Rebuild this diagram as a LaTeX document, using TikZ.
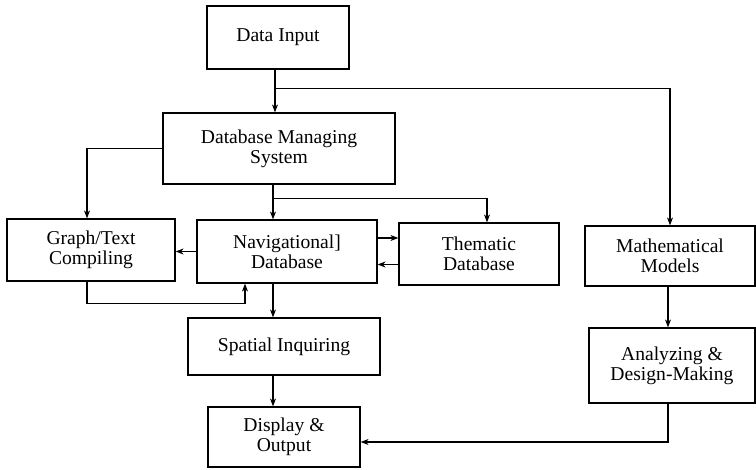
\documentclass[tikz,border=0pt]{standalone}
\usepackage{fontspec}
\setmainfont{Liberation Serif}
\usetikzlibrary{arrows.meta,calc}
\begin{document}
\begin{tikzpicture}[x=0.5pt,y=-0.5pt,
  box/.style={draw,line width=0.6pt,align=center,inner sep=0pt,font=\fontsize{9.8}{10}\selectfont},
  arr/.style={-{Stealth[length=4pt,width=3pt]},line width=0.6pt},
  ln/.style={line width=0.6pt}]
\useasboundingbox (0,0) rectangle (756,470);
\node[box,minimum width=71pt,minimum height=31.5pt] (din) at (278,37.5) {Data Input};
\node[box,minimum width=116pt,minimum height=35.5pt] (dms) at (279,148.5) {Database Managing\\System};
\node[box,minimum width=84pt,minimum height=31pt] (gtc) at (91,250) {Graph/Text\\Compiling};
\node[box,minimum width=90pt,minimum height=31.5pt] (nav) at (287,251.5) {Navigational]\\Database};
\node[box,minimum width=80pt,minimum height=31pt] (the) at (479,254) {Thematic\\Database};
\node[box,minimum width=85pt,minimum height=30pt] (mm) at (670,256) {Mathematical\\Models};
\node[box,minimum width=96pt,minimum height=28.5pt] (sp) at (284,346.5) {Spatial Inquiring};
\node[box,minimum width=76pt,minimum height=30pt] (dis) at (284,437) {Display \&\\Output};
\node[box,minimum width=83pt,minimum height=37.5pt] (an) at (672,365.5) {Analyzing \&\\Design-Making};
% Data input -> DMS, branch to Mathematical Models
\draw[arr] ([xshift=-1.5pt]din.south) -- ([xshift=-1.5pt]din.south |- dms.north);
\coordinate (j1) at ($([xshift=-1.5pt]din.south)!0.45!([xshift=-1.5pt]din.south |- dms.north)$);
\draw[arr] (j1) -| (mm.north);
% DMS -> Graph/Text
\draw[arr] (dms.west) -| ([xshift=-2pt]gtc.north);
% DMS -> Navigational, branch to Thematic
\draw[arr] ([xshift=-3pt]dms.south) -- ([xshift=-3pt]dms.south |- nav.north);
\coordinate (j2) at ($([xshift=-3pt]dms.south)!0.4!([xshift=-3pt]dms.south |- nav.north)$);
\draw[arr] (j2) -| ([xshift=4pt]the.north);
% Nav <-> Thematic
\draw[arr] ([yshift=6.75pt]nav.east) -- ([yshift=6.75pt]nav.east -| the.west);
\draw[arr] ([yshift=-5.25pt]the.west) -- ([yshift=-5.25pt]the.west -| nav.east);
% Nav -> Graph/Text
\draw[arr] (nav.west) -- (nav.west -| gtc.east);
% Graph/Text -> Nav (loop below)
\draw[arr] ([xshift=-2pt]gtc.south) -- ++(0,22) -| ([xshift=-21pt]nav.south);
% Nav -> Spatial -> Display
\draw[arr] ([xshift=-7pt]nav.south) -- ([xshift=-7pt]nav.south |- sp.north);
\draw[arr] ([xshift=-5.5pt]sp.south) -- ([xshift=-5.5pt]sp.south |- dis.north);
% Math -> Analyzing -> Display
\draw[arr] ([xshift=-1pt]mm.south) -- ([xshift=-1pt]mm.south |- an.north);
\draw[arr] ([xshift=-2pt]an.south) |- ([yshift=-2.5pt]dis.east);
\end{tikzpicture}
\end{document}
